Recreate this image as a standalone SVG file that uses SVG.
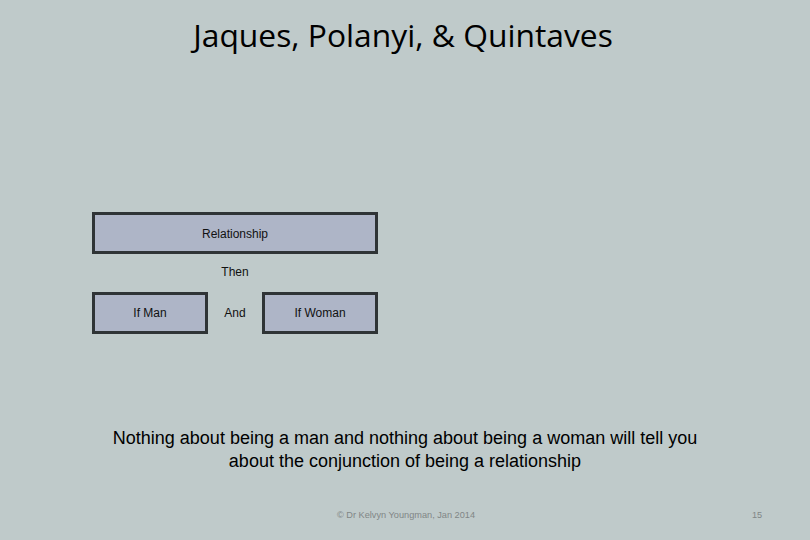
<svg xmlns="http://www.w3.org/2000/svg" width="810" height="540" viewBox="0 0 810 540">
<style>
.box{fill:#aeb5c7;stroke:#2f3436;stroke-width:3}
.lbl{font-family:"Liberation Sans",Arial,sans-serif;font-size:12px;fill:#111;text-anchor:middle}
.body{font-family:"Liberation Sans",Arial,sans-serif;font-size:18px;fill:#000;text-anchor:middle}
.foot{font-family:"Liberation Sans",Arial,sans-serif;font-size:9.2px;fill:#7f8686}
</style>
<rect width="810" height="540" fill="#bfcaca"/>
<text x="403" y="47" font-family="'Open Sans','Noto Sans',sans-serif" font-size="31.8" fill="#000" text-anchor="middle">Jaques, Polanyi, &amp; Quintaves</text>
<g id="relationship">
<rect class="box" x="93.500" y="213.500" width="283" height="39"/>
<text class="lbl" x="235" y="238">Relationship</text>
</g>
<g id="then"><text class="lbl" x="235" y="276">Then</text></g>
<g id="ifman">
<rect class="box" x="93.500" y="293.500" width="113" height="39"/>
<text class="lbl" x="150" y="317">If Man</text>
</g>
<g id="and"><text class="lbl" x="235" y="317">And</text></g>
<g id="ifwoman">
<rect class="box" x="263.500" y="293.500" width="113" height="39"/>
<text class="lbl" x="320" y="317">If Woman</text>
</g>
<g id="connectors"></g>
<text class="body" x="405" y="444">Nothing about being a man and nothing about being a woman will tell you</text>
<text class="body" x="405" y="467">about the conjunction of being a relationship</text>
<text class="foot" x="337" y="518">© Dr Kelvyn Youngman, Jan 2014</text>
<text class="foot" x="752" y="518">15</text>
</svg>
